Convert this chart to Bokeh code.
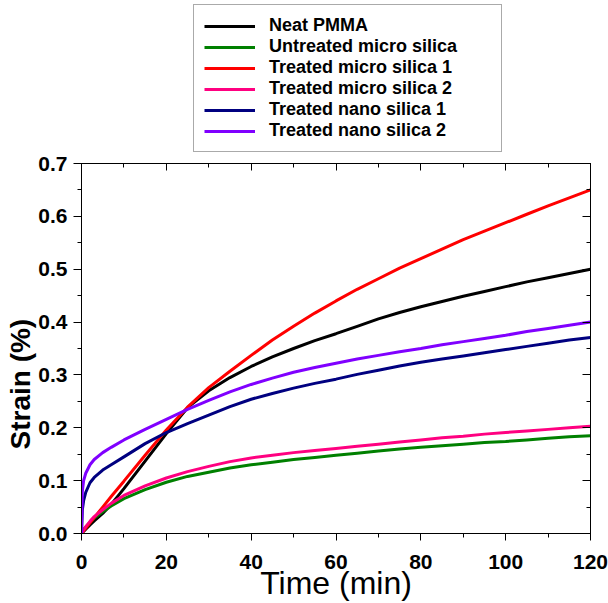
from bokeh.plotting import figure
from bokeh.layouts import column
from bokeh.models import (Range1d, LinearAxis, FixedTicker, PrintfTickFormatter, Legend,
                          LegendItem, Title)
from bokeh.embed import file_html
from bokeh.resources import INLINE

time_min = [0, 0.2, 0.5, 1, 2, 3, 5, 7, 10, 15, 20, 25, 30, 35, 40, 45, 50, 55, 60, 65, 70,
            75, 80, 85, 90, 95, 100, 105, 110, 115, 120]

neat_pmma = [0, 0.002, 0.004, 0.008, 0.016, 0.024, 0.038, 0.055, 0.085, 0.137, 0.189, 0.238, 0.270,
             0.295, 0.316, 0.334, 0.350, 0.365, 0.378, 0.392, 0.406, 0.418, 0.429, 0.439, 0.449,
             0.458, 0.467, 0.476, 0.484, 0.492, 0.500]
untreated_micro = [0, 0.003, 0.007, 0.012, 0.021, 0.029, 0.041, 0.052, 0.066, 0.083, 0.097, 0.108, 0.116,
                   0.124, 0.130, 0.135, 0.140, 0.144, 0.148, 0.152, 0.156, 0.160, 0.163, 0.166, 0.169,
                   0.172, 0.174, 0.177, 0.180, 0.183, 0.185]
treated_micro_1 = [0, 0.002, 0.005, 0.010, 0.020, 0.030, 0.050, 0.070, 0.099, 0.148, 0.196, 0.239, 0.276,
                   0.307, 0.337, 0.366, 0.392, 0.417, 0.440, 0.462, 0.482, 0.502, 0.520, 0.538, 0.556,
                   0.572, 0.588, 0.604, 0.620, 0.635, 0.650]
treated_micro_2 = [0, 0.003, 0.007, 0.013, 0.023, 0.032, 0.045, 0.057, 0.072, 0.090, 0.105, 0.117, 0.127,
                   0.136, 0.143, 0.148, 0.153, 0.157, 0.161, 0.165, 0.169, 0.173, 0.177, 0.181, 0.184,
                   0.188, 0.191, 0.194, 0.197, 0.200, 0.203]
treated_nano_1 = [0, 0.045, 0.062, 0.078, 0.096, 0.106, 0.120, 0.130, 0.145, 0.170, 0.191, 0.208, 0.224,
                  0.240, 0.254, 0.265, 0.275, 0.284, 0.292, 0.301, 0.309, 0.317, 0.324, 0.330, 0.336,
                  0.342, 0.348, 0.354, 0.360, 0.366, 0.371]
treated_nano_2 = [0, 0.080, 0.100, 0.114, 0.130, 0.140, 0.153, 0.163, 0.177, 0.197, 0.216, 0.235, 0.252,
                  0.268, 0.282, 0.294, 0.305, 0.314, 0.322, 0.330, 0.337, 0.344, 0.350, 0.357, 0.363,
                  0.369, 0.375, 0.382, 0.388, 0.394, 0.400]

series_names = ["Neat PMMA", "Untreated micro silica", "Treated micro silica 1",
                "Treated micro silica 2", "Treated nano silica 1", "Treated nano silica 2"]
series_values = [neat_pmma, untreated_micro, treated_micro_1, treated_micro_2, treated_nano_1, treated_nano_2]
colors = ["#000000", "#008000", "#ff0000", "#ff0080", "#000080", "#8000ff"]

x_ticks = [0, 20, 40, 60, 80, 100, 120]
x_minor = [0, 10, 20, 30, 40, 50, 60, 70, 80, 90, 100, 110, 120]
y_ticks = [0.0, 0.1, 0.2, 0.3, 0.4, 0.5, 0.6, 0.7]
y_minor = [0.0, 0.05, 0.1, 0.15, 0.2, 0.25, 0.3, 0.35, 0.4, 0.45, 0.5, 0.55, 0.6, 0.65, 0.7]

# ---- legend strip (top) ----
lf = figure(width=608, height=152, output_backend="svg", toolbar_location=None,
            x_range=Range1d(0, 120), y_range=Range1d(0, 0.7),
            x_axis_location=None, y_axis_location=None,
            min_border_left=0, min_border_right=0, min_border_top=0, min_border_bottom=0)
lf.grid.visible = False
lf.outline_line_color = None
lf.background_fill_color = "white"
lf.border_fill_color = "white"

items = []
for name, vals, col in zip(series_names, series_values, colors):
    r = lf.line(time_min, vals, line_color=col, line_width=3, visible=False)
    items.append(LegendItem(label=name, renderers=[r]))

legend = Legend(items=items, location=(112, 0), orientation="vertical",
                label_text_font="Liberation Sans", label_text_font_style="bold",
                label_text_font_size="18px", label_text_color="#000000",
                glyph_width=51, glyph_height=20, label_height=20, label_width=222,
                label_standoff=14, spacing=0, padding=10, margin=0,
                border_line_color="#555555", border_line_width=1,
                background_fill_color="white", background_fill_alpha=1.0,
                inactive_fill_alpha=0.0, click_policy="none")
lf.add_layout(legend, "center")

# ---- main plot ----
p = figure(width=608, height=451, output_backend="svg", toolbar_location=None,
           x_range=Range1d(0, 120), y_range=Range1d(0, 0.7),
           min_border_left=81, min_border_right=18, min_border_top=11, min_border_bottom=67)
p.grid.visible = False
p.outline_line_color = "#000000"
p.background_fill_color = "white"
p.border_fill_color = "white"

tick_font = "Liberation Sans"

xa = p.xaxis[0]
xa.ticker = FixedTicker(ticks=x_ticks, minor_ticks=x_minor)
xa.axis_label = "Time (min)"
xa.axis_label_text_font = "Liberation Sans"
xa.axis_label_text_font_style = "normal"
xa.axis_label_text_font_size = "32px"
xa.axis_label_text_line_height = 0.82
xa.axis_label_standoff = -7
xa.major_label_text_font = tick_font
xa.major_label_text_font_style = "bold"
xa.major_label_text_font_size = "21px"
xa.major_label_standoff = 14
xa.major_tick_out = 7
xa.major_tick_in = 0
xa.minor_tick_out = 4
xa.minor_tick_in = 0

ya = p.yaxis[0]
ya.ticker = FixedTicker(ticks=y_ticks, minor_ticks=y_minor)
ya.formatter = PrintfTickFormatter(format="%.1f")
ya.major_label_text_font = tick_font
ya.major_label_text_font_style = "bold"
ya.major_label_text_font_size = "21px"
ya.major_label_standoff = 6
ya.major_tick_out = 8
ya.major_tick_in = 0
ya.minor_tick_out = 4
ya.minor_tick_in = 0

for ax in (xa, ya):
    ax.axis_line_color = "#000000"
    ax.major_tick_line_color = "#000000"
    ax.minor_tick_line_color = "#000000"
    ax.major_label_text_color = "#000000"
    ax.axis_label_text_color = "#000000"

top = LinearAxis(ticker=FixedTicker(ticks=x_ticks, minor_ticks=x_minor),
                 major_label_text_font_size="1px", major_label_text_color=None,
                 major_label_standoff=0,
                 major_tick_in=7, major_tick_out=0, minor_tick_in=4, minor_tick_out=0)
right = LinearAxis(ticker=FixedTicker(ticks=y_ticks, minor_ticks=y_minor),
                   major_label_text_font_size="1px", major_label_text_color=None,
                   major_label_standoff=0,
                   major_tick_in=8, major_tick_out=0, minor_tick_in=4, minor_tick_out=0)
p.add_layout(top, "above")
p.add_layout(right, "right")

ytitle = Title(text="Strain (%)", align="left", offset=84, standoff=0,
               text_font="Liberation Sans", text_font_style="bold", text_font_size="28px",
               text_color="#000000")
p.add_layout(ytitle, "left")

for vals, col in zip(series_values, colors):
    p.line(time_min, vals, line_color=col, line_width=3)

layout = column(lf, p, spacing=0)
open("out.html", "w").write(file_html(layout, INLINE))
